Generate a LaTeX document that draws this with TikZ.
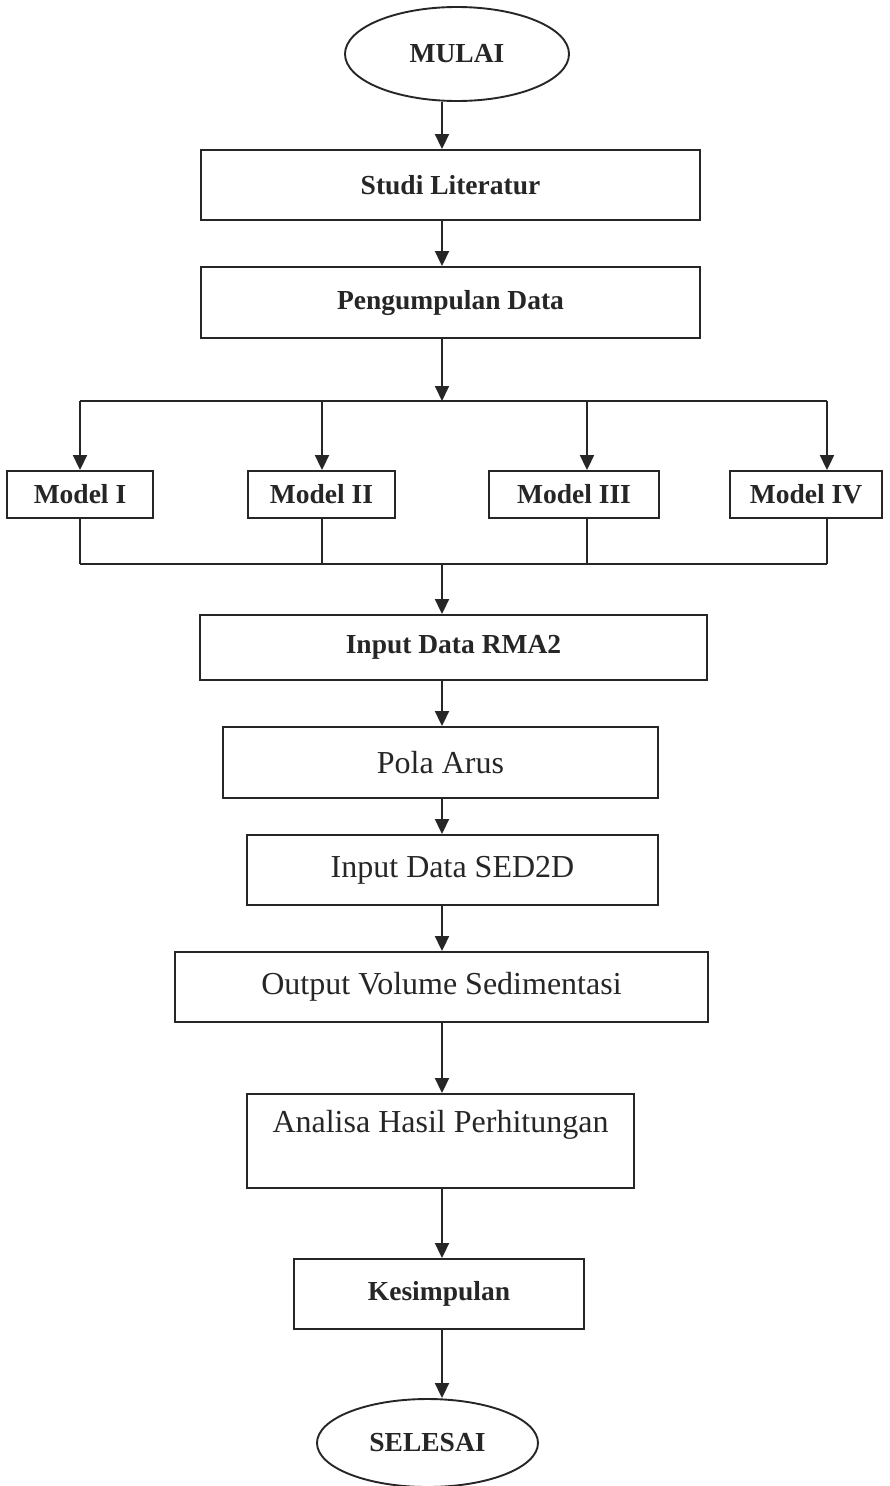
\documentclass[tikz,border=0pt]{standalone}
\usepackage{fontspec}
\setmainfont{Liberation Serif}
\usetikzlibrary{arrows.meta,shapes.geometric}
\definecolor{ink}{RGB}{38,38,38}
\begin{document}
\begin{tikzpicture}[x=1pt,y=-1pt,
  bbox/.style={draw=ink, line width=1.9pt, rectangle, inner sep=0pt, text=ink},
  term/.style={draw=ink, line width=1.9pt, ellipse, inner sep=0pt, text=ink},
  boldtxt/.style={font=\fontsize{27.5}{33}\selectfont\bfseries},
  regtxt/.style={font=\fontsize{32}{38}\selectfont},
  arr/.style={draw=ink, line width=1.9pt, -{Triangle[length=15pt,width=14pt]}},
  conn/.style={draw=ink, line width=1.9pt}]
\fill[white] (0,0) rectangle (890,1486);
\useasboundingbox (0,0) rectangle (890,1486);

% nodes
\node[term,boldtxt,minimum width=224pt,minimum height=94pt] (mulai) at (457,54) {MULAI};
\node[bbox,boldtxt,minimum width=499pt,minimum height=70pt] (studi) at (450.5,185) {Studi Literatur};
\node[bbox,boldtxt,minimum width=499pt,minimum height=71pt] (peng) at (450.5,302.5) {Pengumpulan Data};

\node[bbox,boldtxt,minimum width=146pt,minimum height=47pt] (m1) at (80,494.5) {Model I};
\node[bbox,boldtxt,minimum width=147pt,minimum height=47pt] (m2) at (321.5,494.5) {Model II};
\node[bbox,boldtxt,minimum width=170pt,minimum height=47pt] (m3) at (574,494.5) {Model III};
\node[bbox,boldtxt,minimum width=152pt,minimum height=47pt] (m4) at (806,494.5) {Model IV};

\node[bbox,boldtxt,minimum width=507pt,minimum height=65pt] (rma) at (453.5,647.5) {Input Data RMA2};
\node[bbox,regtxt,minimum width=435pt,minimum height=71pt] (pola) at (440.5,762.5) {Pola Arus};
\node[bbox,regtxt,minimum width=411pt,minimum height=70pt] (sed) at (452.5,870) {Input Data SED2D};
\node[bbox,regtxt,minimum width=533pt,minimum height=70pt] (out) at (441.5,987) {Output Volume Sedimentasi};
\node[bbox,regtxt,minimum width=387pt,minimum height=94pt,align=center] (ana) at (440.5,1141) {Analisa Hasil Perhitungan\\[-10pt]\strut};
\node[bbox,boldtxt,minimum width=290pt,minimum height=70pt] (kes) at (439,1294) {Kesimpulan};
\node[term,boldtxt,minimum width=221pt,minimum height=88pt] (sel) at (427.5,1443) {SELESAI};

% spine and branch coordinates
\coordinate (sp) at (442,0);
\coordinate (top) at (442,401);
\coordinate (bot) at (442,564);
\coordinate (c1) at (80,401);
\coordinate (c2) at (322,401);
\coordinate (c3) at (587,401);
\coordinate (c4) at (827,401);

% connectors
\draw[arr] (mulai.south -| sp) -- (studi.north -| sp);
\draw[arr] (studi.south -| sp) -- (peng.north -| sp);
\draw[arr] (peng.south -| sp) -- (top);
\draw[conn] (c1) -- (c4);
\draw[arr] (c1) -- (c1 |- m1.north);
\draw[arr] (c2) -- (c2 |- m2.north);
\draw[arr] (c3) -- (c3 |- m3.north);
\draw[arr] (c4) -- (c4 |- m4.north);
\draw[conn] (m1.south -| c1) -- (c1 |- bot);
\draw[conn] (m2.south -| c2) -- (c2 |- bot);
\draw[conn] (m3.south -| c3) -- (c3 |- bot);
\draw[conn] (m4.south -| c4) -- (c4 |- bot);
\draw[conn] (c1 |- bot) -- (c4 |- bot);
\draw[arr] (bot) -- (rma.north -| sp);
\draw[arr] (rma.south -| sp) -- (pola.north -| sp);
\draw[arr] (pola.south -| sp) -- (sed.north -| sp);
\draw[arr] (sed.south -| sp) -- (out.north -| sp);
\draw[arr] (out.south -| sp) -- (ana.north -| sp);
\draw[arr] (ana.south -| sp) -- (kes.north -| sp);
\draw[arr] (kes.south -| sp) -- (sel.north -| sp);
\end{tikzpicture}
\end{document}
